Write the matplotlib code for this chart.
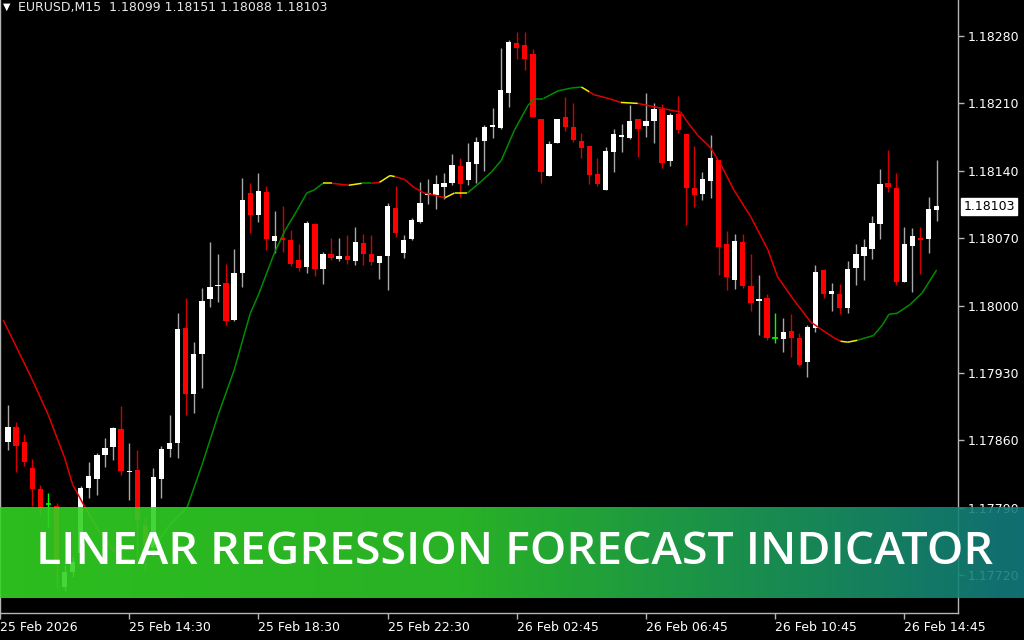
import matplotlib
matplotlib.use('Agg')
import matplotlib.pyplot as plt
import numpy as np
from matplotlib.collections import LineCollection

# ---------------- data ----------------
opens = [1.17858, 1.17874, 1.17858, 1.17831, 1.17809, 1.17794, 1.17792, 1.17708, 1.17723, 1.17743,
         1.17811, 1.17820, 1.17845, 1.17853, 1.17872, 1.17827, 1.17829, 1.17772, 1.17748, 1.17820,
         1.17851, 1.17857, 1.17977, 1.17908, 1.17950, 1.18007, 1.18020, 1.18023, 1.17985, 1.18034,
         1.18117, 1.18094, 1.18118, 1.18067, 1.18070, 1.18068, 1.18047, 1.18040, 1.18085, 1.18038,
         1.18054, 1.18048, 1.18051, 1.18046, 1.18065, 1.18054, 1.18044, 1.18051, 1.18101, 1.18055,
         1.18069, 1.18087, 1.18115, 1.18115, 1.18123, 1.18127, 1.18145, 1.18130, 1.18147, 1.18171,
         1.18186, 1.18184, 1.18221, 1.18273, 1.18271, 1.18261, 1.18194, 1.18135, 1.18169, 1.18196,
         1.18186, 1.18171, 1.18166, 1.18137, 1.18120, 1.18160, 1.18175, 1.18174, 1.18194, 1.18187,
         1.18192, 1.18204, 1.18150, 1.18199, 1.18178, 1.18122, 1.18116, 1.18129, 1.18151, 1.18064,
         1.18027, 1.18066, 1.18020, 1.18005, 1.18008, 1.17966, 1.17965, 1.17974, 1.17966, 1.17941,
         1.17977, 1.18037, 1.18012, 1.18012, 1.17998, 1.18039, 1.18052, 1.18059, 1.18085, 1.18127,
         1.18122, 1.18024, 1.18062, 1.18070, 1.18069, 1.18099]
highs = [1.17897, 1.17879, 1.17867, 1.17841, 1.17814, 1.17805, 1.17795, 1.17731, 1.17739, 1.17813,
         1.17838, 1.17847, 1.17862, 1.17874, 1.17896, 1.17857, 1.17850, 1.17779, 1.17831, 1.17854,
         1.17886, 1.17992, 1.18008, 1.17962, 1.18018, 1.18066, 1.18054, 1.18043, 1.18059, 1.18132,
         1.18127, 1.18138, 1.18124, 1.18098, 1.18103, 1.18078, 1.18064, 1.18088, 1.18086, 1.18056,
         1.18070, 1.18070, 1.18073, 1.18082, 1.18074, 1.18073, 1.18051, 1.18107, 1.18124, 1.18073,
         1.18091, 1.18128, 1.18131, 1.18136, 1.18138, 1.18157, 1.18153, 1.18169, 1.18175, 1.18188,
         1.18205, 1.18268, 1.18276, 1.18284, 1.18284, 1.18267, 1.18194, 1.18171, 1.18194, 1.18217,
         1.18210, 1.18179, 1.18166, 1.18153, 1.18165, 1.18183, 1.18189, 1.18208, 1.18194, 1.18221,
         1.18210, 1.18209, 1.18200, 1.18218, 1.18178, 1.18166, 1.18139, 1.18177, 1.18151, 1.18077,
         1.18074, 1.18074, 1.18054, 1.18032, 1.18012, 1.17992, 1.17987, 1.17991, 1.17972, 1.17980,
         1.18042, 1.18038, 1.18023, 1.18022, 1.18046, 1.18064, 1.18069, 1.18093, 1.18142, 1.18162,
         1.18138, 1.18082, 1.18081, 1.18082, 1.18113, 1.18151]
lows = [1.17850, 1.17827, 1.17833, 1.17792, 1.17783, 1.17770, 1.17707, 1.17704, 1.17718, 1.17740,
        1.17800, 1.17803, 1.17832, 1.17840, 1.17824, 1.17798, 1.17733, 1.17723, 1.17740, 1.17800,
        1.17843, 1.17842, 1.17886, 1.17888, 1.17914, 1.17999, 1.18004, 1.17980, 1.17984, 1.18019,
        1.18075, 1.18087, 1.18058, 1.18055, 1.18056, 1.18041, 1.18036, 1.18034, 1.18031, 1.18022,
        1.18047, 1.18046, 1.18043, 1.18042, 1.18042, 1.18042, 1.18028, 1.18016, 1.18071, 1.18049,
        1.18068, 1.18086, 1.18105, 1.18100, 1.18111, 1.18125, 1.18113, 1.18125, 1.18127, 1.18140,
        1.18174, 1.18183, 1.18206, 1.18256, 1.18245, 1.18196, 1.18127, 1.18135, 1.18169, 1.18181,
        1.18170, 1.18153, 1.18126, 1.18124, 1.18120, 1.18139, 1.18160, 1.18173, 1.18154, 1.18175,
        1.18169, 1.18143, 1.18145, 1.18179, 1.18084, 1.18102, 1.18110, 1.18112, 1.18032, 1.18016,
        1.18017, 1.18018, 1.17994, 1.17969, 1.17964, 1.17961, 1.17952, 1.17947, 1.17937, 1.17926,
        1.17973, 1.18008, 1.17994, 1.17991, 1.17992, 1.18021, 1.18027, 1.18048, 1.18069, 1.18118,
        1.18021, 1.18024, 1.18014, 1.18033, 1.18055, 1.18088]
closes = [1.17874, 1.17854, 1.17838, 1.17810, 1.17790, 1.17794, 1.17731, 1.17723, 1.17734, 1.17811,
          1.17823, 1.17845, 1.17852, 1.17873, 1.17828, 1.17828, 1.17777, 1.17751, 1.17822, 1.17851,
          1.17857, 1.17976, 1.17908, 1.17950, 1.18005, 1.18019, 1.18021, 1.17984, 1.18034, 1.18110,
          1.18094, 1.18119, 1.18069, 1.18072, 1.18068, 1.18043, 1.18039, 1.18086, 1.18038, 1.18054,
          1.18049, 1.18052, 1.18047, 1.18066, 1.18054, 1.18045, 1.18051, 1.18103, 1.18075, 1.18068,
          1.18089, 1.18107, 1.18117, 1.18126, 1.18127, 1.18146, 1.18126, 1.18149, 1.18170, 1.18186,
          1.18188, 1.18224, 1.18274, 1.18268, 1.18256, 1.18196, 1.18139, 1.18168, 1.18194, 1.18186,
          1.18172, 1.18164, 1.18136, 1.18126, 1.18161, 1.18178, 1.18177, 1.18192, 1.18183, 1.18192,
          1.18204, 1.18148, 1.18198, 1.18182, 1.18122, 1.18115, 1.18131, 1.18153, 1.18061, 1.18030,
          1.18067, 1.18020, 1.18003, 1.18007, 1.17966, 1.17966, 1.17973, 1.17966, 1.17938, 1.17978,
          1.18035, 1.18012, 1.18015, 1.17997, 1.18038, 1.18054, 1.18061, 1.18086, 1.18126, 1.18123,
          1.18025, 1.18064, 1.18072, 1.18068, 1.18100, 1.18103]

# Linear regression forecast line (bar position, value, colour state)
lr_bar = [-0.6, 3, 5, 7, 8, 9.5, 11, 13, 15, 16.5,
          18, 20, 22.2, 24, 26, 28, 30, 31, 33, 34.3,
          35.8, 37, 37.9, 39, 40.1, 42.2, 43.8, 45, 46, 47.3,
          47.9, 49.1, 50.4, 51.5, 52.7, 54.1, 55.3, 56.9, 58.6, 59.9,
          61.1, 62.7, 64.4, 65.2, 66.3, 68.1, 69.8, 71, 72, 72.6,
          74.4, 75.9, 78, 80.9, 83.3, 84.2, 85.4, 87, 88.3, 89.9,
          92, 94.1, 95.3, 97.3, 99.4, 100.6, 102.2, 103.1, 104, 105.2,
          107.2, 108.3, 109.1, 110.1, 111.7, 113.2, 115]
lr_val = [1.17985, 1.17923, 1.17886, 1.17842, 1.17814, 1.17791, 1.17769, 1.17746, 1.17734, 1.17734,
          1.17748, 1.17772, 1.17791, 1.17834, 1.17886, 1.17933, 1.17992, 1.18011, 1.18055, 1.18078,
          1.18099, 1.18117, 1.18120, 1.18127, 1.18127, 1.18125, 1.18127, 1.18127, 1.18128, 1.18135,
          1.18134, 1.18131, 1.18122, 1.18117, 1.18115, 1.18112, 1.18117, 1.18117, 1.18129, 1.18139,
          1.18151, 1.18182, 1.18208, 1.18215, 1.18215, 1.18223, 1.18226, 1.18227, 1.18222, 1.18219,
          1.18215, 1.18211, 1.18210, 1.18205, 1.18201, 1.18190, 1.18177, 1.18164, 1.18146, 1.18120,
          1.18092, 1.18058, 1.18030, 1.18006, 1.17983, 1.17976, 1.17967, 1.17963, 1.17962, 1.17964,
          1.17969, 1.17980, 1.17991, 1.17992, 1.18001, 1.18013, 1.18037]
lr_state = ('r' * 9 + 'g' * 14 + 'y' + 'r' + 'y' + 'g' + 'r' + 'yy' + 'r' * 5 + 'yy' +
            'g' * 10 + 'y' + 'rrr' + 'y' + 'r' * 15 + 'yy' + 'g' * 7 + 'g')

tick_bars = [-1, 15, 31, 47, 63, 79, 95, 111]
tick_labels = ['25 Feb 2026', '25 Feb 14:30', '25 Feb 18:30', '25 Feb 22:30',
               '26 Feb 02:45', '26 Feb 06:45', '26 Feb 10:45', '26 Feb 14:45']
price_ticks = [1.17720, 1.17790, 1.17860, 1.17930, 1.18000, 1.18070, 1.18140, 1.18210, 1.18280]

symbol = 'EURUSD,M15'
banner_text = 'LINEAR REGRESSION FORECAST INDICATOR'

# ---------------- figure ----------------
W, H = 1024, 640
fig = plt.figure(figsize=(W / 100, H / 100), dpi=100, facecolor='black')
ax = fig.add_axes([0, 27 / H, 958 / W, 613 / H])
ax.set_facecolor('black')

n = len(opens)
x = np.arange(n)
o = np.array(opens); c = np.array(closes); hi = np.array(highs); lo = np.array(lows)
bw = 0.66
min_h = 0.000012
for i in range(n):
    if o[i] == c[i]:
        col = '#00ff00'
        ax.vlines(x[i], lo[i], hi[i], color=col, lw=1, zorder=3)
        ax.hlines(o[i], x[i] - bw / 2, x[i] + bw / 2, color=col, lw=1.2, zorder=3)
        continue
    up = c[i] > o[i]
    body = '#ffffff' if up else '#ff0000'
    wick = '#a8a8a8' if up else '#d40000'
    ax.vlines(x[i], lo[i], hi[i], color=wick, lw=1, zorder=2)
    bot = min(o[i], c[i]); h = max(abs(c[i] - o[i]), min_h)
    ax.bar(x[i], h, bottom=bot, width=bw, color=body, linewidth=0, zorder=3)

# indicator line
cmap = {'r': '#e00000', 'g': '#008c00', 'y': '#f0f000'}
pts = np.column_stack([lr_bar, lr_val])
segs = [pts[k:k + 2] for k in range(len(pts) - 1)]
cols = [cmap[lr_state[k]] for k in range(len(pts) - 1)]
ax.add_collection(LineCollection(segs, colors=cols, linewidths=1.1, zorder=4))

ax.set_xlim(-0.617, 117.65)
ax.set_ylim(1.176807, 1.183174)

ax.spines['top'].set_visible(False)
for s in ['right', 'bottom', 'left']:
    ax.spines[s].set_color('#b4b4b4')
    ax.spines[s].set_linewidth(1)

ax.yaxis.tick_right()
ax.set_yticks(price_ticks)
ax.set_yticklabels(['%.5f' % p for p in price_ticks])
ax.tick_params(axis='y', colors='#b4b4b4', labelcolor='white', length=4, width=1,
               direction='out', labelsize=9, pad=3)
ax.set_xticks(tick_bars)
ax.set_xticklabels(tick_labels, ha='left')
ax.tick_params(axis='x', colors='#b4b4b4', labelcolor='white', length=4, width=1,
               direction='out', labelsize=9, pad=2)
for lab in ax.get_xticklabels():
    lab.set_horizontalalignment('left')

# current price label
ax.annotate('%.5f' % closes[-1], xy=(1.0, closes[-1]), xycoords=('axes fraction', 'data'),
            xytext=(4, 0), textcoords='offset points', ha='left', va='center',
            fontsize=9, color='black',
            bbox=dict(boxstyle='square,pad=0.18', fc='white', ec='white'), zorder=10,
            annotation_clip=False)

# header
fig.text(3 / W, 1 - 7 / H, '\u25bc', color='white', fontsize=7, ha='left', va='center')
fig.text(18 / W, 1 - 7 / H,
         '%s  %.5f %.5f %.5f %.5f' % (symbol, opens[-1], highs[-1], lows[-1], closes[-1]),
         color='#e8e8e8', fontsize=9, ha='left', va='center')

# banner
bax = fig.add_axes([0, (H - 598) / H, 1, 91 / H], zorder=20)
bax.set_axis_off()
stops = np.array([[0.00, 0.20, 0.83, 0.13],
                  [0.45, 0.18, 0.78, 0.17],
                  [0.70, 0.12, 0.64, 0.32],
                  [1.00, 0.07, 0.48, 0.50]])
gx = np.linspace(0, 1, 512)
grad = np.stack([np.interp(gx, stops[:, 0], stops[:, k]) for k in (1, 2, 3)], axis=-1)
grad = np.concatenate([grad, np.full((512, 1), 0.9)], axis=-1)[None, :, :]
bax.imshow(grad, aspect='auto', extent=[0, 1, 0, 1])
bax.set_xlim(0, 1); bax.set_ylim(0, 1)
t = fig.text(515 / W, (H - 552) / H, banner_text, color='white', fontsize=32,
             family=['Open Sans', 'DejaVu Sans'], fontweight='semibold',
             ha='center', va='center', zorder=30)
fig.canvas.draw()
bb = t.get_window_extent(renderer=fig.canvas.get_renderer())
t.set_fontsize(32 * 960 / bb.width)

fig.savefig('out.png', dpi=100, facecolor='black')
